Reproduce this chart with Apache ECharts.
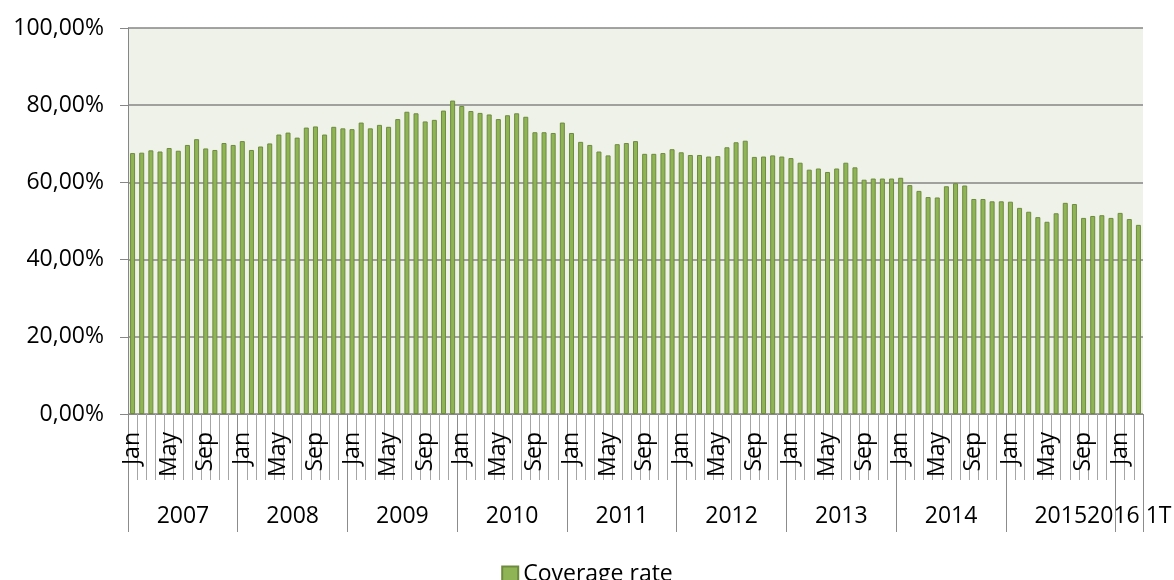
<!DOCTYPE html>
<html>
<head>
<meta charset="utf-8">
<title>Coverage rate</title>
<script src="https://cdn.jsdelivr.net/npm/echarts@6.0.0/dist/echarts.min.js"></script>
<style>
	html,body{margin:0;padding:0;background:#fff;}
	#coverageChart{width:1174px;height:580px;}
</style>
</head>
<body>
<div id="coverageChart"></div>
<script>
// month names and year groups of the category axis
var monthNames = ['Jan','Feb','Mar','Apr','May','Jun','Jul','Aug','Sep','Oct','Nov','Dec'];
var years = ['2007','2008','2009','2010','2011','2012','2013','2014','2015','2016 1T'];
var monthsPerYear = [12,12,12,12,12,12,12,12,12,3];

// y axis tick labels
var yTicks = [0,20,40,60,80,100];

// coverage rate (%) per month
var rate2007 = [67.6,67.7,68.3,68.0,68.9,68.2,69.7,71.2,68.8,68.4,70.2,69.7];
var rate2008 = [70.7,68.4,69.3,70.1,72.4,72.9,71.6,74.2,74.5,72.4,74.4,74.0];
var rate2009 = [73.8,75.5,74.0,74.9,74.4,76.4,78.3,77.9,75.8,76.2,78.6,81.2];
var rate2010 = [79.8,78.5,78.0,77.6,76.4,77.4,77.9,77.0,73.0,73.0,72.8,75.5];
var rate2011 = [72.8,70.5,69.7,68.0,67.0,69.9,70.2,70.7,67.4,67.4,67.6,68.6];
var rate2012 = [67.8,67.1,67.1,66.7,66.8,69.1,70.4,70.8,66.6,66.7,67.0,66.7];
var rate2013 = [66.3,65.1,63.3,63.6,62.7,63.6,65.1,63.9,60.7,61.0,61.0,61.0];
var rate2014 = [61.2,59.3,57.8,56.2,56.1,59.0,59.8,59.2,55.7,55.7,55.1,55.1];
var rate2015 = [55.0,53.4,52.4,51.0,49.8,52.0,54.7,54.4,50.8,51.3,51.5,50.8];
var rate2016 = [52.1,50.5,49.0];

var coverageChart = {
	font: 'Open Sans',
	fontSize: 23,
	init: function(){
		var self = this;
		var rates = [].concat(rate2007,rate2008,rate2009,rate2010,rate2011,rate2012,rate2013,rate2014,rate2015,rate2016);
		var months = [], yearStart = [], yearLabelAt = {};
		var pos = 0;
		for (var i = 0; i < years.length; i++) {
			yearStart.push(pos);
			// year label sits in the middle of its months
			yearLabelAt[pos + Math.floor(monthsPerYear[i] / 2)] = i;
			for (var m = 0; m < monthsPerYear[i]; m++) {
				months.push(monthNames[m]);
			}
			pos += monthsPerYear[i];
		}
		var txt = {fontSize: self.fontSize, fontFamily: self.font, color: '#000'};

		var myChart = echarts.init(document.getElementById('coverageChart'));
		var option = {
			animation: false,
			textStyle: {fontFamily: self.font},
			legend: {
				top: 558,
				left: 'center',
				icon: 'rect',
				itemWidth: 16,
				itemHeight: 16,
				textStyle: txt,
				data: ['Coverage rate']
			},
			grid: {
				left: 128,
				right: 31,
				top: 28,
				bottom: 166,
				show: true,
				backgroundColor: '#EEF2E8',
				borderWidth: 0,
				outerBoundsMode: 'none'
			},
			xAxis: [{
				// month row
				type: 'category',
				position: 'bottom',
				offset: 0,
				data: months,
				axisLine: {show: true, lineStyle: {color: '#868686', width: 1}},
				axisTick: {
					show: true,
					interval: 0,
					length: 66,
					lineStyle: {color: '#A6A6A6', width: 1}
				},
				axisLabel: {
					interval: function(idx){ return idx % 4 === 0; },
					rotate: 90,
					margin: 18,
					color: '#000',
					fontSize: self.fontSize,
					fontFamily: self.font
				}
			},{
				// year row
				type: 'category',
				position: 'bottom',
				offset: 0,
				data: months,
				axisLine: {show: false},
				axisTick: {
					show: true,
					interval: function(idx){ return yearStart.indexOf(idx) >= 0; },
					length: 118,
					lineStyle: {color: '#8C8C8C', width: 1}
				},
				axisLabel: {
					interval: function(idx){ return yearLabelAt[idx] !== undefined; },
					margin: 91,
					color: '#000',
					fontSize: self.fontSize,
					fontFamily: self.font,
					formatter: function(value, idx){
						var y = yearLabelAt[idx];
						if (y === undefined) return '';
						// even month count: label goes half a band left, onto the year's centre
						if (monthsPerYear[y] % 2 === 0) return '{half|' + years[y] + '}';
						return '{mid|' + years[y] + '}';
					},
					rich: {
						half: echarts.util.extend({padding: [0, 9, 0, 0]}, txt),
						mid: txt
					}
				}
			}],
			yAxis: {
				type: 'value',
				min: yTicks[0],
				max: yTicks[yTicks.length - 1],
				interval: yTicks[1] - yTicks[0],
				axisLine: {show: true, lineStyle: {color: '#868686'}},
				axisTick: {show: true, length: 8, lineStyle: {color: '#868686'}},
				splitLine: {lineStyle: {color: '#868686', width: 1.5}},
				axisLabel: {
					margin: 24,
					color: '#000',
					fontSize: self.fontSize,
					fontFamily: self.font,
					formatter: function(v){ return v + ',00%'; }
				}
			},
			series: [{
				name: 'Coverage rate',
				type: 'bar',
				xAxisIndex: 0,
				barWidth: 5,
				itemStyle: {
					color: '#8FB456',
					borderColor: '#6E8B3D',
					borderWidth: 1
				},
				data: rates
			}]
		};
		myChart.setOption(option, true);
	}
};
coverageChart.init();
</script>
</body>
</html>
